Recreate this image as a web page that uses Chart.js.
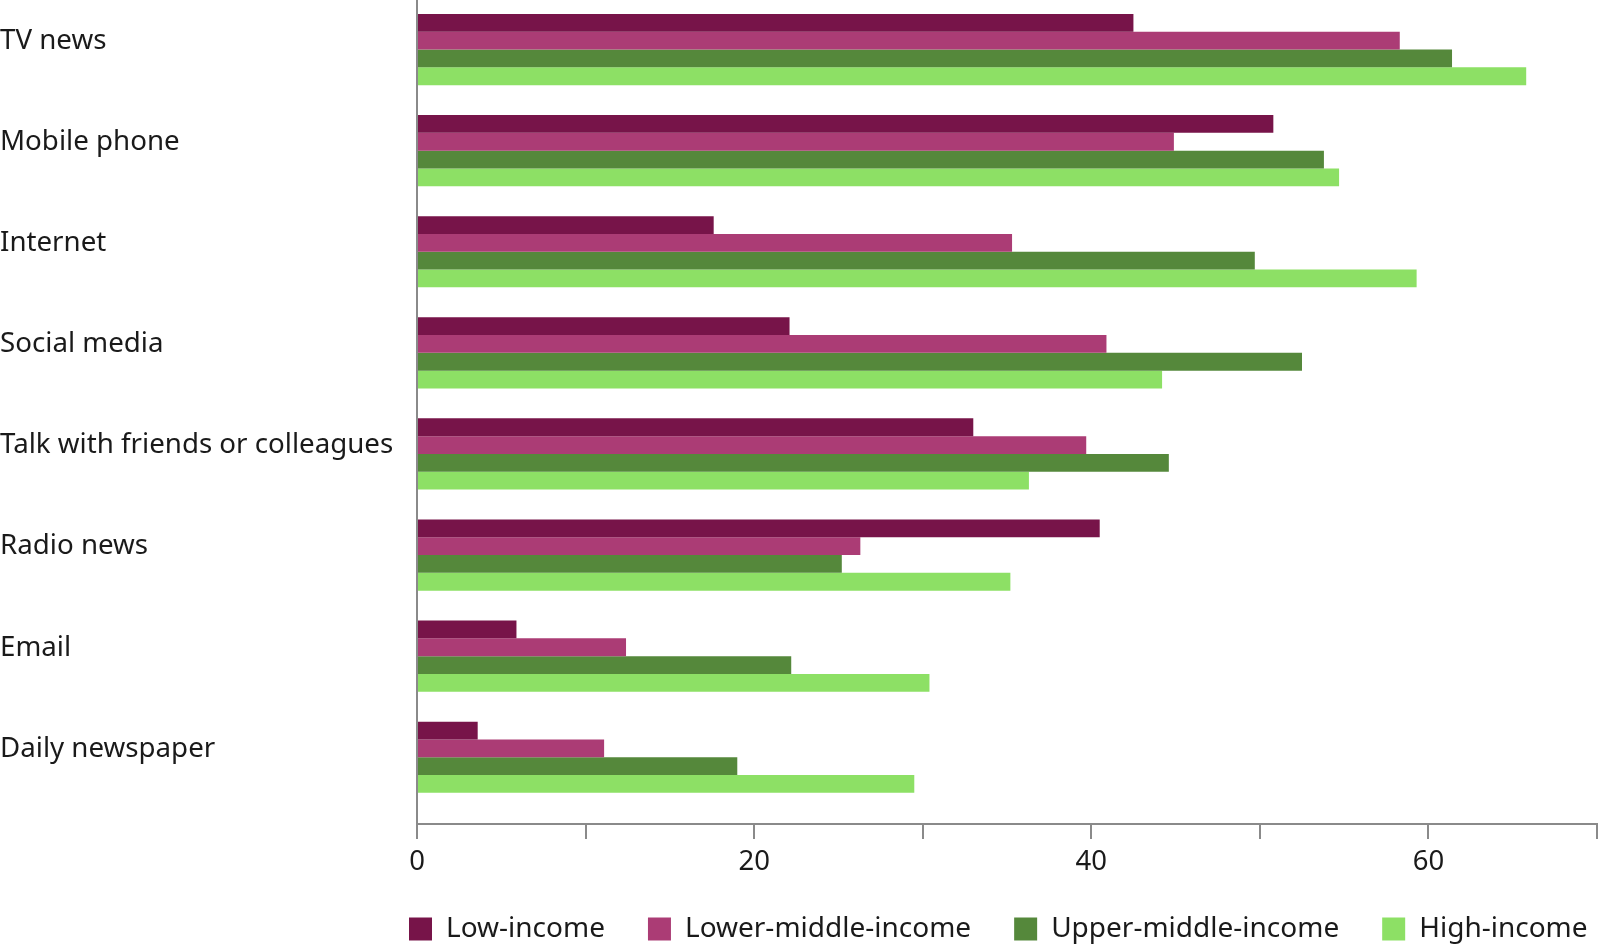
<!DOCTYPE html>
<html>
<head>
<meta charset="utf-8">
<style>
  html, body { margin: 0; padding: 0; background: #ffffff; }
  #wrap { position: relative; width: 1598px; height: 949px; }
</style>
<script src="https://cdn.jsdelivr.net/npm/chart.js"></script>
</head>
<body>
<div id="wrap"><canvas id="c"></canvas></div>
<script>
const categories = ['TV news', 'Mobile phone', 'Internet', 'Social media', 'Talk with friends or colleagues', 'Radio news', 'Email', 'Daily newspaper'];
const seriesNames = ['Low-income', 'Lower-middle-income', 'Upper-middle-income', 'High-income'];
const lowIncome         = [42.5, 50.8, 17.6, 22.1, 33.0, 40.5, 5.9, 3.6];
const lowerMiddleIncome = [58.3, 44.9, 35.3, 40.9, 39.7, 26.3, 12.4, 11.1];
const upperMiddleIncome = [61.4, 53.8, 49.7, 52.5, 44.6, 25.2, 22.2, 19.0];
const highIncome        = [65.8, 54.7, 59.3, 44.2, 36.3, 35.2, 30.4, 29.5];
const xTickValues = [0, 10, 20, 30, 40, 50, 60, 70];
const xTickLabels = ['0', '', '20', '', '40', '', '60', ''];

const colors = ['#771449', '#ab3c75', '#55883b', '#8de065'];
const seriesValues = [lowIncome, lowerMiddleIncome, upperMiddleIncome, highIncome];

const FONT = "'Noto Sans', 'Open Sans', sans-serif";
const FS = 27.5;
const FS_Y = 27.7;
const FS_LEG = 28;
const LEGEND_PAD = 43;
const LEGEND_START = 409;
const LEGEND_CENTER_Y = 929;
const LEGEND_BOX_H = 30;
const AXIS_BOTTOM = 824;
const AXIS_GRAY = '#8a8a8a';

Chart.defaults.font.family = FONT;
Chart.defaults.font.size = FS;
Chart.defaults.color = '#1a1a1a';

const datasets = seriesNames.map((name, k) => ({
  label: name,
  data: seriesValues[k].map((v, i) => ({ x: v, y: i })),
  backgroundColor: colors[k],
  borderWidth: 0,
  categoryPercentage: 0.704,
  barPercentage: 1.0
}));

const legendShift = {
  id: 'legendShift',
  afterLayout(chart) {
    const lg = chart.legend;
    if (!lg) return;
    const w = lg.right - lg.left;
    lg.left = LEGEND_START - LEGEND_PAD;
    lg.right = lg.left + w;
    lg.top = LEGEND_CENTER_Y - FS_LEG / 2 - LEGEND_PAD;
    lg.bottom = chart.height;
    lg.height = lg.bottom - lg.top;
  }
};

new Chart(document.getElementById('c'), {
  type: 'bar',
  data: { datasets },
  plugins: [legendShift],
  options: {
    indexAxis: 'y',
    responsive: true,
    maintainAspectRatio: false,
    animation: false,
    layout: { padding: { left: 0, right: 1, top: 0, bottom: 0 } },
    plugins: {
      tooltip: { enabled: false },
      legend: {
        position: 'bottom',
        align: 'start',
        fullSize: true,
        maxHeight: LEGEND_BOX_H,
        labels: {
          boxWidth: 23,
          boxHeight: 23,
          padding: LEGEND_PAD,
          font: { size: FS_LEG, family: FONT },
          color: '#1a1a1a'
        }
      }
    },
    scales: {
      y: {
        type: 'linear',
        reverse: true,
        offset: false,
        min: -0.49,
        max: 7.66,
        afterBuildTicks: (s) => { s.ticks = categories.map((c, i) => ({ value: i })); },
        afterFit: (s) => { s.width = 417; s.paddingTop = 0; s.paddingBottom = 0; },
        ticks: {
          autoSkip: false,
          crossAlign: 'far',
          labelOffset: -8.5,
          padding: 0,
          font: { size: FS_Y, family: FONT },
          color: '#1a1a1a',
          callback: (v) => categories[Math.round(v)]
        },
        grid: { offset: false, drawOnChartArea: false, drawTicks: false },
        border: { display: true, color: AXIS_GRAY, width: 2 }
      },
      x: {
        type: 'linear',
        min: 0,
        max: 70,
        afterBuildTicks: (s) => { s.ticks = xTickValues.map(v => ({ value: v })); },
        afterFit: (s) => { s.height = 949 - LEGEND_BOX_H - AXIS_BOTTOM; s.paddingRight = 0; },
        ticks: {
          autoSkip: false,
          maxRotation: 0,
          padding: 7,
          font: { size: FS, family: FONT },
          color: '#1a1a1a',
          callback: (v, i) => xTickLabels[i]
        },
        grid: { drawOnChartArea: false, drawTicks: true, tickLength: 15, color: AXIS_GRAY, lineWidth: 2, tickWidth: 2 },
        border: { display: true, color: AXIS_GRAY, width: 2 }
      }
    }
  }
});
</script>
</body>
</html>
